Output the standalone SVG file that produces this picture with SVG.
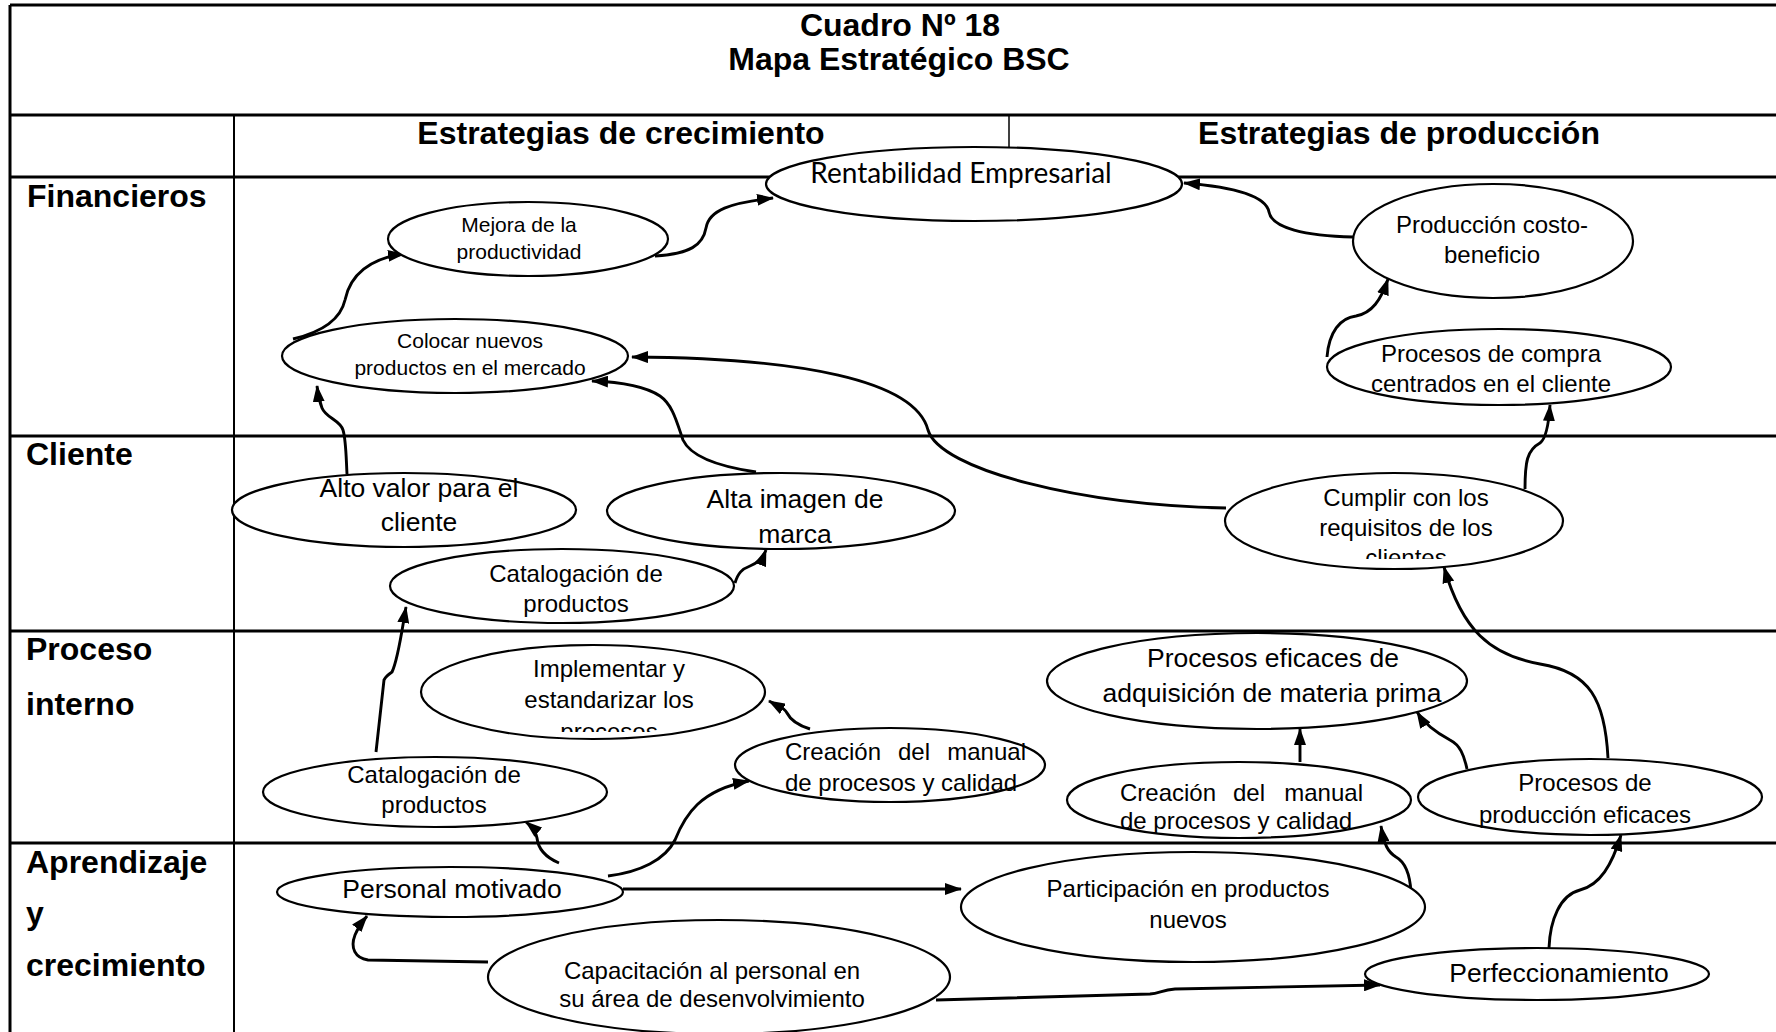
<svg xmlns="http://www.w3.org/2000/svg" width="1776" height="1032" viewBox="0 0 1776 1032">
  <defs>
    <style>
      .grid { stroke: #000; stroke-width: 3; fill: none; }
      .thin { stroke: #000; stroke-width: 2; fill: none; }
      .hair { stroke: #000; stroke-width: 1.5; fill: none; }
      .node ellipse { fill: #fff; stroke: #000; stroke-width: 2.2; }
      .head { font-family: "Liberation Sans", Arial, sans-serif; font-weight: bold; font-size: 32px; fill: #000; }
      .t { font-family: "Liberation Sans", Arial, sans-serif; fill: #000; text-anchor: middle; }
      .st { text-anchor: start; }
      .en { text-anchor: end; }
      .s21 { font-size: 21px; }
      .s24 { font-size: 24px; }
      .s26 { font-size: 26.5px; }
      .cal { font-family: Lato, "Open Sans", sans-serif; font-size: 28px; fill: #000; text-anchor: middle; }
      .conn path { fill: none; stroke: #000; stroke-width: 2.9; marker-end: url(#arrow); }
    </style>
    <marker id="arrow" viewBox="0 0 17 12" refX="16" refY="6" markerWidth="17" markerHeight="12" markerUnits="userSpaceOnUse" orient="auto">
      <path d="M0,0 L17,6 L0,12 Z" fill="#000"/>
    </marker>
    <clipPath id="clipCumplir"><rect x="1220" y="470" width="350" height="89"/></clipPath>
    <clipPath id="clipImpl"><rect x="415" y="640" width="360" height="92"/></clipPath>
  </defs>

  <rect x="0" y="0" width="1776" height="1032" fill="#fff"/>

  <!-- table frame -->
  <g id="table">
    <line class="grid" x1="10" y1="5" x2="1776" y2="5"/>
    <line class="grid" x1="10" y1="5" x2="10" y2="1032"/>
    <line class="grid" x1="10" y1="115" x2="1776" y2="115"/>
    <line class="grid" x1="10" y1="177" x2="1776" y2="177"/>
    <line class="thin" x1="234" y1="115" x2="234" y2="1032"/>
    <line class="hair" x1="1009" y1="115" x2="1009" y2="177"/>
    <line class="grid" x1="10" y1="436" x2="1776" y2="436"/>
    <line class="grid" x1="10" y1="631" x2="1776" y2="631"/>
    <line class="grid" x1="10" y1="843" x2="1776" y2="843"/>

    <text class="head" x="900" y="36" text-anchor="middle">Cuadro Nº 18</text>
    <text class="head" x="899" y="70" text-anchor="middle">Mapa Estratégico BSC</text>
    <text class="head" x="621" y="144" text-anchor="middle">Estrategias de crecimiento</text>
    <text class="head" x="1399" y="144" text-anchor="middle">Estrategias de producción</text>

    <text class="head" x="27" y="207">Financieros</text>
    <text class="head" x="26" y="465">Cliente</text>
    <text class="head" x="26" y="660">Proceso</text>
    <text class="head" x="26" y="715">interno</text>
    <text class="head" x="26" y="873">Aprendizaje</text>
    <text class="head" x="26" y="924">y</text>
    <text class="head" x="26" y="976">crecimiento</text>
  </g>

  <!-- connectors -->
  <g id="connectors" class="conn">
    <path d="M293,339 C318,333 340,322 345,300 C350,275 370,258 404,254"/>
    <path d="M655,256 C690,254 703,245 706,228 C709,210 730,203 773,198"/>
    <path d="M1353,237 C1305,236 1272,228 1269,212 C1266,196 1235,187 1184,183"/>
    <path d="M1327,357 C1329,332 1340,318 1356,316 C1372,313 1381,300 1388,279"/>
    <path d="M1525,489 C1525,462 1527,450 1540,443 C1547,438 1549,420 1550,405"/>
    <path d="M1226,508 C1080,505 940,470 928,430 C915,380 800,358 632,357"/>
    <path d="M756,472 C715,466 690,455 683,440 C677,423 673,405 660,396 C645,386 620,382 592,381"/>
    <path d="M347,474 C346,455 346,440 343,430 C340,420 326,418 322,408 C319,400 318,395 317,386"/>
    <path d="M735,583 C738,573 742,569 750,566 C758,563 763,558 766,550"/>
    <path d="M376,752 L384,680 Q386,676 392,672 C398,660 402,630 406,607"/>
    <path d="M810,729 C797,725 790,719 787,713 C784,707 776,705 769,701"/>
    <path d="M559,863 C545,857 538,848 537,838 C536,832 532,827 526,822"/>
    <path d="M608,876 C640,872 665,860 675,840 C685,815 700,790 749,781"/>
    <path d="M623,889 L961,889"/>
    <path d="M488,962 L368,960 C355,958 350,948 355,935 C358,928 362,922 367,916"/>
    <path d="M936,1000 L1150,994 C1160,993 1162,990 1175,989 L1380,985"/>
    <path d="M1411,892 C1410,875 1405,862 1396,857 C1388,852 1384,845 1381,826"/>
    <path d="M1549,948 C1550,920 1560,895 1580,890 C1600,885 1612,865 1621,835"/>
    <path d="M1300,762 L1300,729"/>
    <path d="M1467,769 C1464,755 1460,745 1450,740 C1437,733 1425,725 1417,712"/>
    <path d="M1608,758 C1605,700 1590,672 1540,664 C1490,655 1462,630 1444,567"/>
  </g>

  <!-- Financieros -->
  <g id="n-rentabilidad" class="node">
    <ellipse cx="974" cy="184" rx="208" ry="37"/>
    <text class="cal" x="961" y="183">Rentabilidad Empresarial</text>
  </g>
  <g id="n-mejora" class="node">
    <ellipse cx="528" cy="239" rx="140" ry="37"/>
    <text class="t s21" x="519" y="232">Mejora de la</text>
    <text class="t s21" x="519" y="259">productividad</text>
  </g>
  <g id="n-colocar" class="node">
    <ellipse cx="455" cy="356" rx="173" ry="37"/>
    <text class="t s21" x="470" y="348">Colocar nuevos</text>
    <text class="t s21" x="470" y="375">productos en el mercado</text>
  </g>
  <g id="n-costo" class="node">
    <ellipse cx="1493" cy="241" rx="140" ry="57"/>
    <text class="t s24" x="1492" y="233">Producción costo-</text>
    <text class="t s24" x="1492" y="263">beneficio</text>
  </g>
  <g id="n-compra" class="node">
    <ellipse cx="1499" cy="367" rx="172" ry="38"/>
    <text class="t s24" x="1491" y="362">Procesos de compra</text>
    <text class="t s24" x="1491" y="392">centrados en el cliente</text>
  </g>

  <!-- Cliente -->
  <g id="n-altovalor" class="node">
    <ellipse cx="404" cy="510" rx="172" ry="37"/>
    <text class="t s26" x="419" y="497">Alto valor para el</text>
    <text class="t s26" x="419" y="531">cliente</text>
  </g>
  <g id="n-imagen" class="node">
    <ellipse cx="781" cy="511" rx="174" ry="38"/>
    <text class="t s26" x="795" y="508">Alta imagen de</text>
    <text class="t s26" x="795" y="543">marca</text>
  </g>
  <g id="n-catalogo1" class="node">
    <ellipse cx="562" cy="586" rx="172" ry="37"/>
    <text class="t s24" x="576" y="582">Catalogación de</text>
    <text class="t s24" x="576" y="612">productos</text>
  </g>
  <g id="n-cumplir" class="node">
    <ellipse cx="1394" cy="521" rx="169" ry="48"/>
    <g clip-path="url(#clipCumplir)">
      <text class="t s24" x="1406" y="506">Cumplir con los</text>
      <text class="t s24" x="1406" y="536">requisitos de los</text>
      <text class="t s24" x="1406" y="566">clientes</text>
    </g>
  </g>

  <!-- Proceso interno -->
  <g id="n-implementar" class="node">
    <ellipse cx="593" cy="692" rx="172" ry="47"/>
    <g clip-path="url(#clipImpl)">
      <text class="t s24" x="609" y="677">Implementar y</text>
      <text class="t s24" x="609" y="708">estandarizar los</text>
      <text class="t s24" x="609" y="740">procesos</text>
    </g>
  </g>
  <g id="n-catalogo2" class="node">
    <ellipse cx="435" cy="792" rx="172" ry="35"/>
    <text class="t s24" x="434" y="783">Catalogación de</text>
    <text class="t s24" x="434" y="813">productos</text>
  </g>
  <g id="n-manual1" class="node">
    <ellipse cx="890" cy="765" rx="155" ry="37"/>
    <text class="t s24 st" x="785" y="760">Creación</text>
    <text class="t s24" x="914" y="760">del</text>
    <text class="t s24 en" x="1026" y="760">manual</text>
    <text class="t s24 st" x="785" y="791">de procesos y calidad</text>
  </g>
  <g id="n-adquisicion" class="node">
    <ellipse cx="1257" cy="681" rx="210" ry="48"/>
    <text class="t s26" x="1273" y="667">Procesos eficaces de</text>
    <text class="t s26" x="1272" y="702">adquisición de materia prima</text>
  </g>
  <g id="n-manual2" class="node">
    <ellipse cx="1239" cy="800" rx="172" ry="38"/>
    <text class="t s24 st" x="1120" y="801">Creación</text>
    <text class="t s24" x="1249" y="801">del</text>
    <text class="t s24 en" x="1363" y="801">manual</text>
    <text class="t s24 st" x="1120" y="829">de procesos y calidad</text>
  </g>
  <g id="n-produccion" class="node">
    <ellipse cx="1590" cy="797" rx="172" ry="38"/>
    <text class="t s24" x="1585" y="791">Procesos de</text>
    <text class="t s24" x="1585" y="823">producción eficaces</text>
  </g>

  <!-- Aprendizaje y crecimiento -->
  <g id="n-personal" class="node">
    <ellipse cx="450" cy="892" rx="173" ry="25"/>
    <text class="t s26" x="452" y="898">Personal motivado</text>
  </g>
  <g id="n-participacion" class="node">
    <ellipse cx="1193" cy="907" rx="232" ry="55"/>
    <text class="t s24" x="1188" y="897">Participación en productos</text>
    <text class="t s24" x="1188" y="928">nuevos</text>
  </g>
  <g id="n-capacitacion" class="node">
    <ellipse cx="719" cy="977" rx="231" ry="57"/>
    <text class="t s24" x="712" y="979">Capacitación al personal en</text>
    <text class="t s24" x="712" y="1007">su área de desenvolvimiento</text>
  </g>
  <g id="n-perfeccionamiento" class="node">
    <ellipse cx="1537" cy="974" rx="172" ry="26"/>
    <text class="t s26" x="1559" y="982">Perfeccionamiento</text>
  </g>
</svg>
